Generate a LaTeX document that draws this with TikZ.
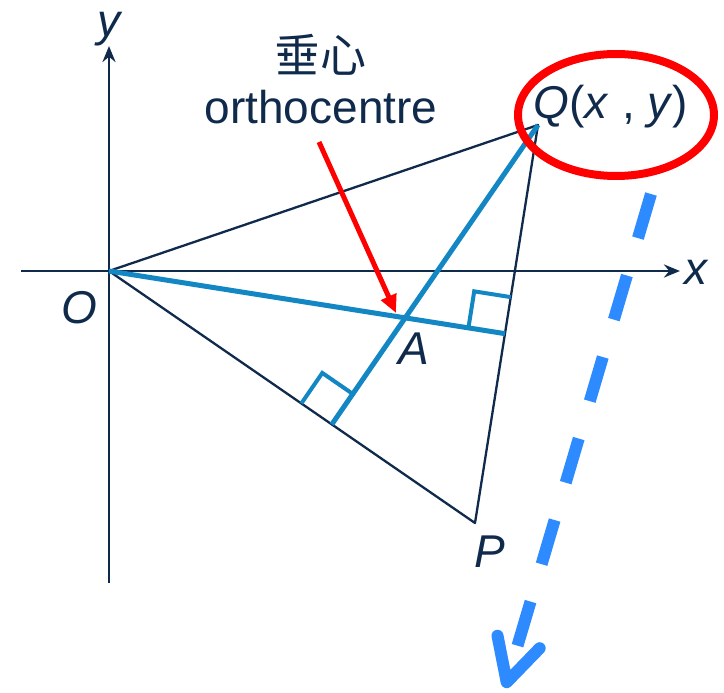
\documentclass[tikz,border=0pt]{standalone}
\usepackage{fontspec}
\setmainfont{Liberation Sans}
\newfontfamily\cjk{Noto Sans CJK TC}
\usepackage{tikz}
\usetikzlibrary{arrows.meta,positioning,calc}
\definecolor{geonavy}{HTML}{102A4C}
\definecolor{geoblue}{HTML}{1386C4}
\definecolor{dashblue}{HTML}{2D8BFF}
\definecolor{markred}{HTML}{FF0000}

\begin{document}
\begin{tikzpicture}[x=1pt,y=-1pt,
    axis/.style={geonavy,line width=2.8pt,-{Stealth[length=16pt,width=13pt]}},
    side/.style={geonavy,line width=2.3pt,line join=round},
    altitude/.style={geoblue,line width=5pt},
    rightangle/.style={geoblue,line width=4pt},
    lbl/.style={text=geonavy,font=\fontsize{46}{50}\selectfont,inner sep=0pt}]
  \useasboundingbox (0,0) rectangle (724,693);
  % Points of the triangle
  \coordinate (O) at (109,271);
  \coordinate (Q) at (538,125);
  \coordinate (P) at (475,523);
  % Axes
  \coordinate (xa) at (21,271);
  \coordinate (xb) at (680,271);
  \coordinate (ya) at (109,583);
  \coordinate (yb) at (109,46);
  \draw[axis] (xa) -- (xb);
  \draw[axis] (ya) -- (yb);
  % Triangle OQP
  \draw[side] (O) -- (Q) -- (P) -- cycle;
  % Altitudes and orthocentre
  \coordinate (F1) at ($(Q)!(O)!(P)$);
  \coordinate (F2) at ($(O)!(Q)!(P)$);
  \coordinate (A) at (intersection of O--F1 and Q--F2);
  \draw[altitude] (O) -- (F1);
  \draw[altitude] (Q) -- (F2);
  \draw[rightangle] ($(F1)!37pt!(O)$) -- ($(F1)!37pt!(O)+(F1)!37pt!(Q)-(F1)$) -- ($(F1)!37pt!(Q)$);
  \draw[rightangle] ($(F2)!37pt!(O)$) -- ($(F2)!37pt!(O)+(F2)!37pt!(Q)-(F2)$) -- ($(F2)!37pt!(Q)$);
  % Labels
  \node[lbl] (ylbl) at (110,29) {\textit{y}};
  \node[lbl] (xlbl) at (697,272) {\textit{x}};
  \node[lbl] (Olbl) at (79,308) {\textit{O}};
  \node[lbl] (Albl) at (414,349) {\textit{A}};
  \node[lbl] (Plbl) at (490,552) {\textit{P}};
  \node[lbl] (Qlbl) at (611,107) {\textit{Q}(\textit{x} , \textit{y})};
  \node[lbl,font=\cjk\fontsize{46}{50}\selectfont] (zh) at (320,55) {垂心};
  \node[lbl] (ortho) at (321,107) {orthocentre};
  % Pointer to the orthocentre
  \coordinate (redtail) at (319,142);
  \coordinate (redtip) at (396,313);
  \draw[markred,line width=5pt,-{Triangle[length=18pt,width=16pt]}] (redtail) -- (redtip);
  \draw[markred,line width=8pt] (616,115) ellipse [x radius=98pt, y radius=61pt];
  % Dashed arrow going down
  \coordinate (dtail) at (651,194);
  \coordinate (dtip) at (505,688);
  \draw[dashblue,line width=12pt,dash pattern=on 46pt off 39pt,
        -{Straight Barb[length=42pt,width=44pt,line width=12pt,round]}] (dtail) -- (dtip);
\end{tikzpicture}
\end{document}
